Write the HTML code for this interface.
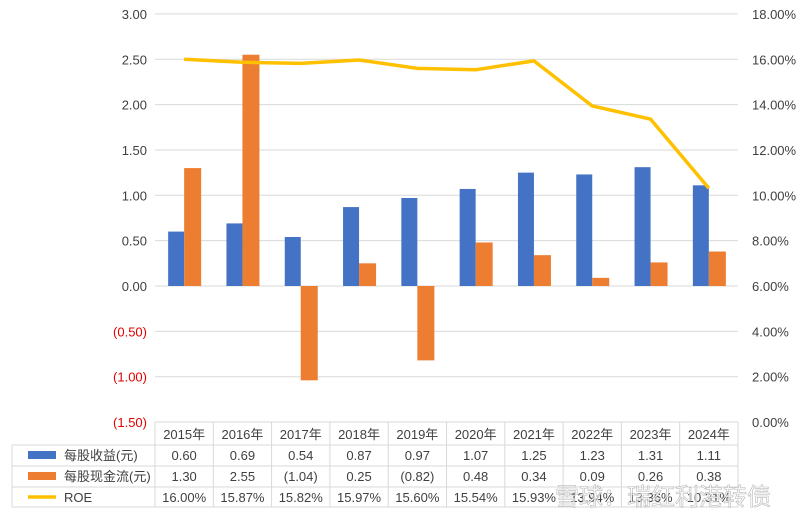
<!DOCTYPE html>
<html><head><meta charset="utf-8"><style>
body{margin:0;background:#fff;font-family:"Liberation Sans","Noto Sans CJK SC",sans-serif;}
svg text{font-family:"Liberation Sans","Noto Sans CJK SC",sans-serif;}
</style></head><body>
<svg id="c" width="800" height="519"></svg>
<script>
const years=["2015年","2016年","2017年","2018年","2019年","2020年","2021年","2022年","2023年","2024年"];
const eps=[0.60,0.69,0.54,0.87,0.97,1.07,1.25,1.23,1.31,1.11];
const cf=[1.30,2.55,-1.04,0.25,-0.82,0.48,0.34,0.09,0.26,0.38];
const roe=[16.00,15.87,15.82,15.97,15.60,15.54,15.93,13.94,13.36,10.31];
const leftTicks=[3,2.5,2,1.5,1,0.5,0,-0.5,-1,-1.5];
const rightTicks=[18,16,14,12,10,8,6,4,2,0];
const svg=document.getElementById('c');
const NS='http://www.w3.org/2000/svg';
function mk(t,a,txt){const e=document.createElementNS(NS,t);for(const k in a)e.setAttribute(k,a[k]);if(txt!==undefined)e.textContent=txt;svg.appendChild(e);return e;}
const x0=155,x1=738,bw=(x1-x0)/years.length;
const yL=v=>286-v*90.7;
const yR=v=>422-v*22.67;
const cx=i=>x0+bw*(i+0.5);
const fmt=v=>v<0?'('+Math.abs(v).toFixed(2)+')':v.toFixed(2);
leftTicks.forEach(t=>{
 let g=mk('line',{x1:x0,x2:x1,y1:yL(t),y2:yL(t),stroke:'#d9d9d9','stroke-width':1});
 
 let l=mk('text',{x:147,y:yL(t)+5,'text-anchor':'end','font-size':13,fill:t<0?'#e00000':'#404040'},fmt(t));
 
});
rightTicks.forEach(t=>{
 let l=mk('text',{x:752,y:yR(t)+5,'font-size':13,fill:'#404040'},t.toFixed(2)+'%');
 
});
years.forEach((y,i)=>{
 const c=cx(i);
 let v=eps[i];
 let b=mk('rect',{x:c-16,y:Math.min(yL(v),yL(0)),width:16,height:Math.abs(yL(v)-yL(0)),fill:'#4472c4'});
 
 v=cf[i];
 b=mk('rect',{x:c,y:Math.min(yL(v),yL(0)),width:17,height:Math.abs(yL(v)-yL(0)),fill:'#ed7d31'});
 
});
let ln=mk('polyline',{points:roe.map((v,i)=>cx(i)+','+yR(v)).join(' '),fill:'none',stroke:'#ffc000','stroke-width':3.5,'stroke-linejoin':'round'});

// table
const rows=[422,445,466,487,507];
const tl={stroke:'#d9d9d9','stroke-width':1};
[[x0,x1,rows[0]],[12,x1,rows[1]],[12,x1,rows[2]],[12,x1,rows[3]],[12,x1,rows[4]]].forEach(r=>{
 let e=mk('line',Object.assign({x1:r[0],x2:r[1],y1:r[2],y2:r[2]},tl));
});
for(let i=0;i<=years.length;i++){
 let e=mk('line',Object.assign({x1:x0+bw*i,x2:x0+bw*i,y1:rows[0],y2:rows[4]},tl));
}
let e=mk('line',Object.assign({x1:12,x2:12,y1:rows[1],y2:rows[4]},tl));
years.forEach((y,i)=>{
 let t=mk('text',{x:cx(i),y:439,'text-anchor':'middle','font-size':13,fill:'#404040'},y);
 
 t=mk('text',{x:cx(i),y:460,'text-anchor':'middle','font-size':13,fill:'#404040'},fmt(eps[i]));
 
 t=mk('text',{x:cx(i),y:481,'text-anchor':'middle','font-size':13,fill:'#404040'},fmt(cf[i]));
 
 t=mk('text',{x:cx(i),y:502,'text-anchor':'middle','font-size':13,fill:'#404040'},roe[i].toFixed(2)+'%');
 
});
let r=mk('rect',{x:28,y:451,width:28,height:8,fill:'#4472c4'});
r=mk('rect',{x:28,y:472,width:28,height:8,fill:'#ed7d31'});
r=mk('line',{x1:28,x2:56,y1:497,y2:497,stroke:'#ffc000','stroke-width':3.5});
let t=mk('text',{x:64,y:460,'font-size':13,fill:'#404040'},'每股收益(元)');
t=mk('text',{x:64,y:481,'font-size':13,fill:'#404040'},'每股现金流(元)');
t=mk('text',{x:64,y:502,'font-size':13,fill:'#404040'},'ROE');
t=mk('text',{x:555,y:505,'font-size':24,fill:'#ffffff','fill-opacity':0.75,stroke:'#888','stroke-width':0.6,'stroke-opacity':0.6},'雪球：瑞红利港转债');
</script>
</body></html>
